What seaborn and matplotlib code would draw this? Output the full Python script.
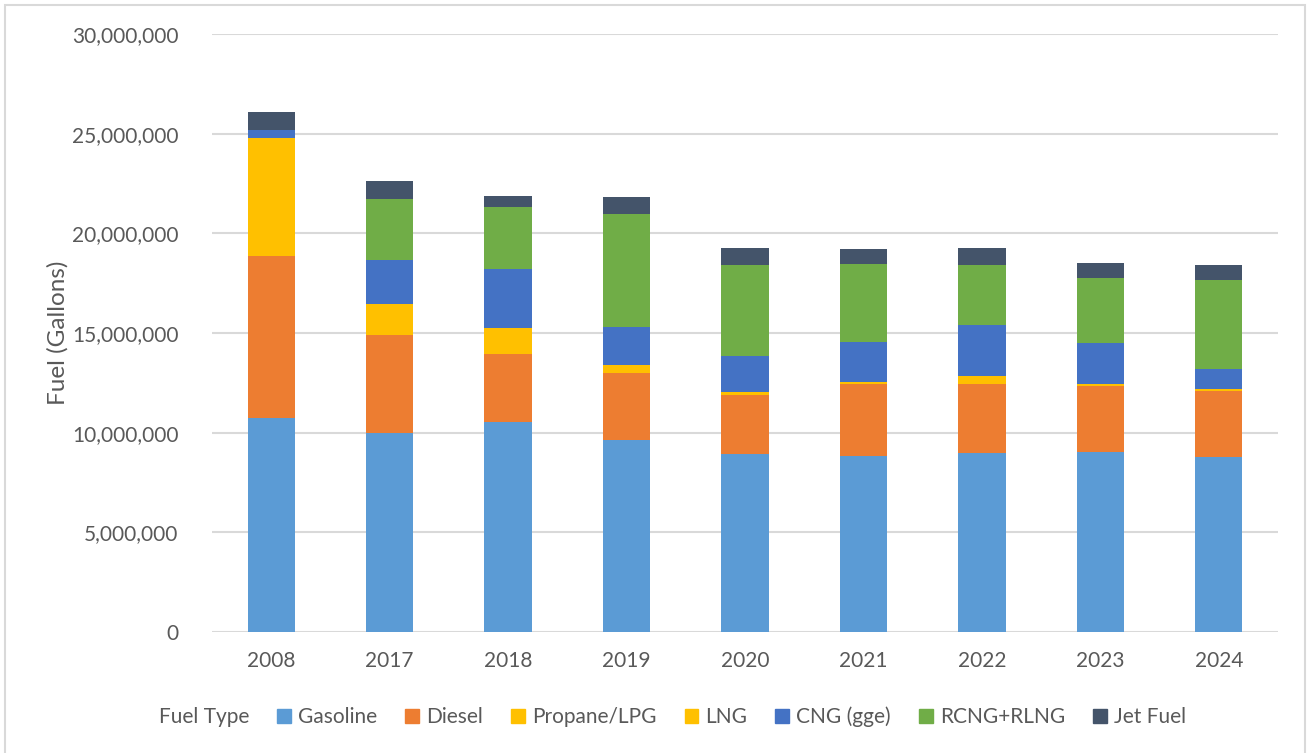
import numpy as np
import matplotlib
matplotlib.use("Agg")
import matplotlib.pyplot as plt
import matplotlib.patches as mpatches
import seaborn as sns
from matplotlib.ticker import FuncFormatter

# values (gallons)
years = ["2008", "2017", "2018", "2019", "2020", "2021", "2022", "2023", "2024"]
gasoline = [10750000, 9970000, 10520000, 9630000, 8920000, 8850000, 8980000, 9050000, 8800000]
diesel = [8120000, 4920000, 3430000, 3370000, 2970000, 3580000, 3460000, 3290000, 3310000]
propane = [5900000, 1450000, 1250000, 300000, 100000, 80000, 330000, 60000, 50000]
lng = [0, 100000, 70000, 110000, 70000, 50000, 90000, 40000, 30000]
cng = [420000, 2230000, 2940000, 1890000, 1790000, 1980000, 2560000, 2050000, 1020000]
rcng = [0, 3060000, 3100000, 5690000, 4560000, 3910000, 3010000, 3260000, 4440000]
jet = [900000, 900000, 550000, 820000, 870000, 770000, 810000, 750000, 760000]

series = [
    ("Gasoline", gasoline, "#5B9BD5"),
    ("Diesel", diesel, "#ED7D31"),
    ("Propane/LPG", propane, "#FFC000"),
    ("LNG", lng, "#FFC000"),
    ("CNG (gge)", cng, "#4472C4"),
    ("RCNG+RLNG", rcng, "#70AD47"),
    ("Jet Fuel", jet, "#44546A"),
]

sns.set_style("white")
plt.rcParams["font.family"] = ["Lato", "DejaVu Sans"]
text_col = "#595959"
W, H = 1307, 753

fig = plt.figure(figsize=(W / 100, H / 100), dpi=100)
ax = fig.add_axes([212 / W, 1 - 632 / H, 1066 / W, 598 / H])

# stacked bars, one seaborn call per fuel type
bottom = np.zeros(len(years))
handles = []
for name, vals, col in series:
    sns.barplot(x=years, y=vals, bottom=bottom, color=col, saturation=1,
                width=0.4, ax=ax, zorder=3, linewidth=0)
    bottom = bottom + np.array(vals)
    handles.append(mpatches.Patch(color=col, label=name))

ax.set_ylim(0, 30000000)
ax.set_xlim(-0.5, len(years) - 0.5)
ax.set_yticks(np.arange(0, 30000001, 5000000))
ax.yaxis.set_major_formatter(FuncFormatter(lambda v, p: f"{int(v):,}"))
ax.grid(axis="y", color="#D9D9D9", linewidth=1.5, zorder=0)
ax.set_axisbelow(True)
for s in ax.spines.values():
    s.set_visible(False)
ax.tick_params(axis="both", length=0, labelsize=15, colors=text_col)
ax.tick_params(axis="y", pad=24)
ax.tick_params(axis="x", pad=14)
ax.set_ylabel("")
ax.set_xlabel("")
fig.text(58 / W, 1 - 333 / H, "Fuel (Gallons)", rotation=90, ha="center",
         va="center", fontsize=17.5, color=text_col)

# "Fuel Type" sits in the legend row as an entry without a marker
blank = mpatches.Patch(color="none", label="Fuel Type")
leg = fig.legend(handles=[blank] + handles, loc="center", ncol=8,
                 bbox_to_anchor=(662 / W, 1 - 717 / H), frameon=False,
                 fontsize=15, handlelength=0.65, handleheight=0.65,
                 handletextpad=0.35, columnspacing=1.35)
for t in leg.get_texts():
    t.set_color(text_col)

# light chart border like the spreadsheet frame
fig.patches.append(mpatches.Rectangle((5 / W, -0.01), 1300 / W, 1 - 5 / H + 0.01,
                                      transform=fig.transFigure, fill=False,
                                      edgecolor="#D9D9D9", linewidth=1.5))
fig.savefig("out.png", dpi=100, facecolor="white")
